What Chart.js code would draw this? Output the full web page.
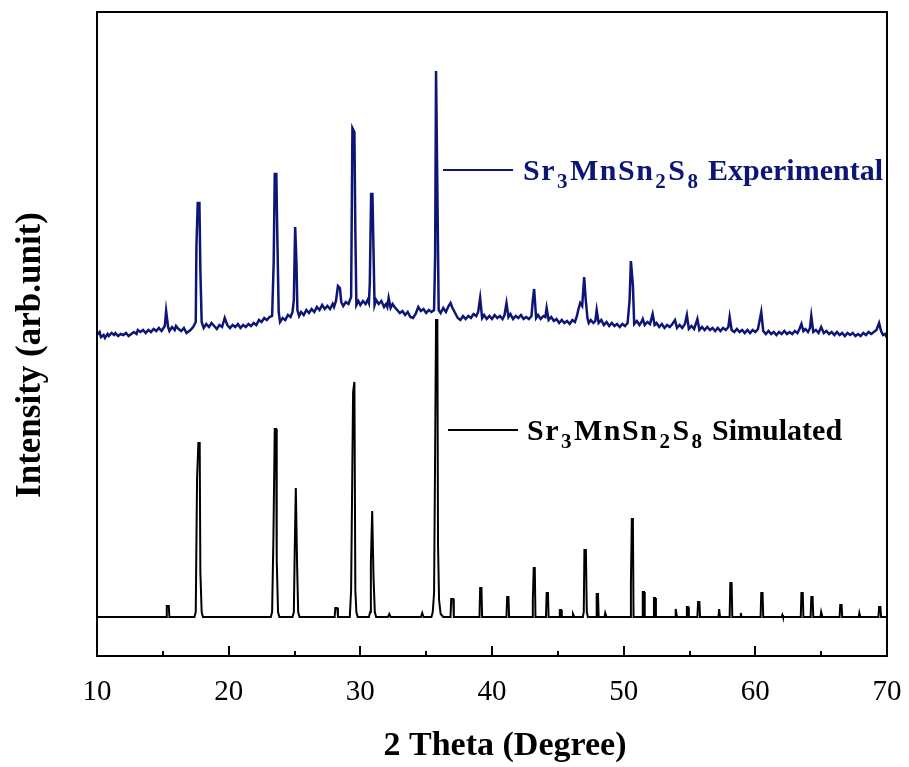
<!DOCTYPE html>
<html>
<head>
<meta charset="utf-8">
<script src="https://cdn.jsdelivr.net/npm/chart.js@4.4.1/dist/chart.umd.min.js"></script>
<style>
  html, body { margin: 0; padding: 0; background: #fff; }
  #xrdChart { display: block; }
</style>
</head>
<body>
<canvas id="xrdChart" width="909" height="767"></canvas>
<script>
// 2 theta (degree) and intensity (arb. units, experimental curve already offset upwards)
const expTheta = [
  10.0, 10.2, 10.3, 10.5, 10.6, 10.8, 10.9, 11.1, 11.3, 11.4, 11.6, 11.8, 12.0, 12.2, 12.4,
  12.6, 12.8, 13.0, 13.1, 13.3, 13.5, 13.7, 13.9, 14.1, 14.3, 14.5, 14.7, 14.9, 15.0, 15.15,
  15.25, 15.4, 15.5, 15.7, 15.9, 16.0, 16.2, 16.4, 16.6, 16.8, 16.9, 17.1, 17.3, 17.5, 17.55,
  17.65, 17.78, 17.85, 17.95, 18.1, 18.3, 18.5, 18.7, 18.9, 19.1, 19.3, 19.5, 19.7, 19.9, 20.1,
  20.3, 20.5, 20.7, 20.9, 21.1, 21.3, 21.5, 21.7, 21.9, 22.1, 22.3, 22.5, 22.7, 22.9, 23.1,
  23.3, 23.42, 23.5, 23.62, 23.7, 23.8, 23.9, 24.1, 24.3, 24.5, 24.7, 24.85, 24.95, 25.05, 25.15,
  25.22, 25.35, 25.5, 25.7, 25.9, 26.1, 26.3, 26.5, 26.7, 26.9, 27.1, 27.3, 27.5, 27.7, 27.9,
  28.0, 28.15, 28.3, 28.45, 28.55, 28.7, 28.9, 29.1, 29.3, 29.4, 29.55, 29.62, 29.7, 29.85, 30.0,
  30.2, 30.4, 30.55, 30.65, 30.72, 30.82, 30.92, 31.0, 31.08, 31.2, 31.4, 31.6, 31.8, 31.95, 32.05,
  32.15, 32.3, 32.45, 32.6, 32.8, 33.0, 33.2, 33.4, 33.6, 33.8, 34.0, 34.2, 34.4, 34.6, 34.8,
  35.0, 35.2, 35.4, 35.6, 35.68, 35.75, 35.85, 35.95, 36.1, 36.3, 36.5, 36.7, 36.85, 37.0, 37.2,
  37.4, 37.6, 37.8, 38.0, 38.2, 38.4, 38.6, 38.8, 38.95, 39.1, 39.25, 39.4, 39.6, 39.8, 40.0,
  40.2, 40.4, 40.6, 40.8, 40.95, 41.1, 41.25, 41.4, 41.6, 41.8, 42.0, 42.2, 42.4, 42.6, 42.8,
  43.0, 43.1, 43.2, 43.35, 43.5, 43.7, 43.9, 44.05, 44.15, 44.3, 44.5, 44.7, 44.9, 45.1, 45.3,
  45.5, 45.7, 45.9, 46.1, 46.3, 46.45, 46.55, 46.7, 46.85, 47.0, 47.12, 47.25, 47.35, 47.5, 47.7,
  47.85, 47.95, 48.1, 48.3, 48.5, 48.7, 48.9, 49.1, 49.3, 49.5, 49.7, 49.9, 50.1, 50.3, 50.45,
  50.55, 50.7, 50.8, 51.0, 51.2, 51.35, 51.45, 51.6, 51.8, 52.0, 52.2, 52.35, 52.5, 52.7, 52.9,
  53.1, 53.3, 53.5, 53.7, 53.9, 54.05, 54.25, 54.45, 54.65, 54.8, 54.95, 55.15, 55.35, 55.6, 55.75,
  55.95, 56.15, 56.35, 56.55, 56.75, 56.95, 57.15, 57.35, 57.55, 57.75, 57.95, 58.05, 58.2, 58.4, 58.6,
  58.8, 59.0, 59.2, 59.4, 59.6, 59.8, 60.0, 60.2, 60.45, 60.6, 60.8, 61.0, 61.2, 61.4, 61.6,
  61.8, 62.0, 62.2, 62.4, 62.6, 62.8, 63.0, 63.2, 63.35, 63.5, 63.65, 63.8, 64.0, 64.15, 64.25,
  64.4, 64.6, 64.8, 65.0, 65.2, 65.4, 65.6, 65.8, 66.0, 66.2, 66.4, 66.6, 66.8, 67.0, 67.2,
  67.4, 67.6, 67.8, 68.0, 68.2, 68.4, 68.6, 68.8, 69.0, 69.2, 69.4, 69.55, 69.7, 69.85, 70.0
];
const expIntensity = [
  321, 324, 319, 321, 318, 322, 320, 323, 321, 323, 320, 322, 321, 323, 320,
  322, 324, 322, 326, 324, 326, 323, 326, 324, 327, 325, 328, 325, 327, 330,
  345, 329, 325, 329, 326, 330, 327, 325, 328, 323, 324, 326, 329, 334, 409,
  453, 453, 386, 334, 328, 332, 329, 333, 330, 327, 331, 329, 338, 331, 328,
  331, 329, 332, 328, 331, 329, 332, 330, 333, 331, 336, 334, 338, 336, 339,
  340, 394, 482, 482, 416, 344, 334, 338, 336, 341, 339, 344, 356, 429, 393,
  346, 340, 344, 341, 346, 343, 347, 344, 349, 346, 351, 347, 350, 347, 352,
  349, 355, 370, 368, 354, 350, 354, 352, 359, 528, 524, 426, 351, 355, 351,
  355, 352, 356, 353, 373, 462, 462, 406, 351, 356, 352, 355, 349, 352, 349,
  358, 348, 352, 349, 346, 343, 345, 341, 344, 339, 338, 342, 349, 345, 347,
  343, 346, 344, 346, 399, 585, 466, 346, 343, 348, 344, 350, 353, 348, 343,
  338, 336, 340, 337, 340, 338, 342, 340, 344, 358, 338, 341, 337, 340, 337,
  341, 338, 340, 337, 341, 353, 339, 342, 337, 340, 338, 341, 337, 339, 337,
  340, 356, 367, 338, 341, 337, 340, 339, 348, 336, 339, 335, 337, 333, 336,
  333, 335, 332, 336, 334, 340, 346, 353, 350, 379, 356, 338, 333, 336, 333,
  335, 346, 333, 336, 331, 334, 330, 333, 330, 332, 329, 332, 330, 333, 356,
  395, 371, 332, 335, 331, 334, 337, 331, 334, 332, 342, 331, 333, 329, 332,
  328, 331, 329, 332, 336, 328, 331, 328, 332, 341, 327, 330, 327, 337, 326,
  329, 326, 329, 326, 328, 325, 328, 325, 328, 326, 329, 339, 326, 324, 327,
  324, 326, 323, 326, 323, 326, 324, 327, 344, 325, 322, 325, 322, 324, 321,
  324, 322, 325, 322, 324, 322, 325, 323, 327, 332, 325, 327, 324, 328, 340,
  324, 326, 323, 329, 323, 325, 322, 324, 321, 324, 321, 323, 320, 323, 321,
  323, 320, 322, 320, 323, 321, 324, 322, 324, 326, 333, 325, 321, 322, 318
];

const simTheta = [
  10.0, 15.25, 15.3, 15.45, 15.5, 17.4, 17.5, 17.6, 17.7, 17.8, 17.85, 17.95, 18.05,
  23.2, 23.3, 23.4, 23.5, 23.6, 23.65, 23.75, 23.85, 24.85, 24.95, 25.02, 25.1, 25.2, 25.28, 25.38,
  28.05, 28.1, 28.25, 28.3, 29.2, 29.3, 29.45, 29.55, 29.62, 29.7, 29.8,
  30.65, 30.75, 30.8, 30.9, 31.0, 31.1, 31.2, 32.1, 32.2, 32.3, 34.6, 34.7, 34.8,
  35.4, 35.5, 35.6, 35.68, 35.75, 35.85, 35.9, 35.98, 36.1, 36.3,
  36.85, 36.9, 37.05, 37.1, 39.05, 39.1, 39.2, 39.25, 41.1, 41.15, 41.25, 41.3,
  43.05, 43.1, 43.17, 43.25, 43.3, 44.1, 44.15, 44.25, 44.3, 45.1, 45.15, 45.25, 45.3,
  46.1, 46.15, 46.25, 46.9, 46.97, 47.02, 47.13, 47.2, 47.28, 47.9, 47.95, 48.05, 48.1,
  48.55, 48.6, 48.7, 50.5, 50.55, 50.62, 50.7, 50.75, 51.4, 51.45, 51.55, 51.6,
  52.25, 52.3, 52.38, 52.45, 53.9, 53.95, 54.05, 54.75, 54.8, 54.9, 54.95,
  55.6, 55.65, 55.75, 55.8, 57.2, 57.25, 57.32, 58.05, 58.1, 58.2, 58.25, 58.85, 58.9, 58.95,
  60.4, 60.45, 60.55, 60.6, 62.0, 62.05, 62.1, 63.45, 63.5, 63.6, 63.65, 64.2, 64.25, 64.35, 64.4,
  64.95, 65.0, 65.1, 66.4, 66.45, 66.55, 66.6, 67.85, 67.9, 67.97, 69.35, 69.4, 69.5, 69.55, 70.0
];
const simIntensity = [
  39, 39, 50, 50, 39, 39, 44, 178, 213, 213, 84, 44, 39,
  39, 44, 119, 227, 227, 96, 44, 39, 39, 44, 108, 168, 89, 44, 39,
  39, 48, 48, 39, 39, 66, 264, 274, 66, 44, 39,
  39, 44, 93, 145, 79, 44, 39, 39, 42, 39, 39, 43, 39,
  39, 44, 63, 203, 336, 336, 111, 56, 42, 39,
  39, 57, 57, 39, 39, 68, 68, 39, 39, 59, 59, 39,
  39, 56, 88, 88, 39, 39, 63, 63, 39, 39, 46, 46, 39,
  39, 42, 39, 39, 44, 106, 106, 44, 39, 39, 62, 62, 39,
  39, 43, 39, 39, 73, 137, 137, 39, 39, 64, 64, 39,
  39, 58, 58, 39, 39, 47, 39, 39, 49, 49, 39,
  39, 54, 54, 39, 39, 47, 39, 39, 73, 73, 39, 39, 43, 39,
  39, 63, 63, 39, 39, 41, 39, 39, 63, 63, 39, 39, 59, 59, 39,
  39, 44, 39, 39, 51, 51, 39, 39, 43, 39, 39, 49, 49, 39, 39
];

const xTicks = [10, 20, 30, 40, 50, 60, 70];
const xMinorTicks = [15, 25, 35, 45, 55, 65];

const navy = "#0d1577";
const serif = "'Liberation Serif', 'Times New Roman', serif";

function toPoints(xs, ys) {
    return xs.map((x, i) => ({ x: x, y: ys[i] }));
}

// inward tick marks on the bottom axis, the box round the plot, axis titles
const frameAndTicks = {
    id: "frameAndTicks",
    afterDraw(chart) {
        const { ctx, chartArea: a, scales: { x } } = chart;
        ctx.save();
        ctx.strokeStyle = "#000";
        ctx.lineWidth = 2;
        ctx.strokeRect(a.left, a.top, a.right - a.left, a.bottom - a.top);
        ctx.beginPath();
        xTicks.forEach(v => {
            const px = Math.round(x.getPixelForValue(v));
            ctx.moveTo(px, a.bottom);
            ctx.lineTo(px, a.bottom - 10);
        });
        xMinorTicks.forEach(v => {
            const px = Math.round(x.getPixelForValue(v));
            ctx.moveTo(px, a.bottom);
            ctx.lineTo(px, a.bottom - 5);
        });
        ctx.stroke();

        ctx.fillStyle = "#000";
        ctx.textAlign = "center";
        ctx.textBaseline = "middle";
        ctx.font = "bold 34px " + serif;
        ctx.fillText("2 Theta (Degree)", (a.left + a.right) / 2 + 13, 746);

        ctx.translate(31, (a.top + a.bottom) / 2 + 21);
        ctx.rotate(-Math.PI / 2);
        ctx.font = "bold 35px " + serif;
        ctx.fillText("Intensity (arb.unit)", 0, 0);
        ctx.restore();
    }
};

// curve labels with the chemical formula subscripts
const seriesLabels = [
    { x0: 36.28, x1: 41.6, xText: 42.35, y: 486, color: navy, name: "Experimental" },
    { x0: 36.66, x1: 41.97, xText: 42.66, y: 226, color: "#000", name: "Simulated" }
];
const formula = [["Sr", false], ["3", true], ["MnSn", false], ["2", true], ["S", false], ["8", true]];

const curveLabels = {
    id: "curveLabels",
    afterDraw(chart) {
        const { ctx, scales: { x, y } } = chart;
        ctx.save();
        seriesLabels.forEach(l => {
            const py = y.getPixelForValue(l.y);
            ctx.strokeStyle = l.color;
            ctx.lineWidth = 2;
            ctx.beginPath();
            ctx.moveTo(x.getPixelForValue(l.x0), py);
            ctx.lineTo(x.getPixelForValue(l.x1), py);
            ctx.stroke();

            ctx.fillStyle = l.color;
            ctx.textBaseline = "alphabetic";
            ctx.textAlign = "left";
            let px = x.getPixelForValue(l.xText);
            const base = py + 10;
            ctx.letterSpacing = "1.5px";
            formula.forEach(([t, sub]) => {
                ctx.font = sub ? "bold 21px " + serif : "bold 30px " + serif;
                ctx.fillText(t, px, sub ? base + 8 : base);
                px += ctx.measureText(t).width + 1;
            });
            ctx.letterSpacing = "0px";
            ctx.font = "bold 30px " + serif;
            ctx.fillText(" " + l.name, px, base);
        });
        ctx.restore();
    }
};

const ctx = document.getElementById("xrdChart").getContext("2d");
new Chart(ctx, {
    type: "line",
    data: {
        datasets: [
            {
                label: "Sr3MnSn2S8 Experimental",
                data: toPoints(expTheta, expIntensity),
                borderColor: navy,
                borderWidth: 2.5,
                pointRadius: 0,
                tension: 0,
                fill: false
            },
            {
                label: "Sr3MnSn2S8 Simulated",
                data: toPoints(simTheta, simIntensity),
                borderColor: "#000",
                borderWidth: 2,
                pointRadius: 0,
                tension: 0,
                fill: false
            }
        ]
    },
    options: {
        responsive: false,
        animation: false,
        devicePixelRatio: 1,
        layout: { padding: { top: 12, right: 22, left: 0, bottom: 0 } },
        plugins: {
            legend: { display: false },
            tooltip: { enabled: false }
        },
        scales: {
            x: {
                type: "linear",
                min: 10,
                max: 70,
                afterBuildTicks: scale => { scale.ticks = xTicks.map(v => ({ value: v })); },
                afterFit: scale => {
                    scale.height = 111;
                    scale.paddingLeft = 0;
                    scale.paddingRight = 0;
                },
                grid: { display: false },
                border: { display: false },
                ticks: {
                    color: "#000",
                    padding: 11,
                    maxRotation: 0,
                    font: { family: serif, size: 29 }
                }
            },
            y: {
                min: 0,
                max: 644,
                afterFit: scale => { scale.width = 97; },
                grid: { display: false },
                border: { display: false },
                ticks: { display: false }
            }
        }
    },
    plugins: [frameAndTicks, curveLabels]
});
</script>
</body>
</html>
